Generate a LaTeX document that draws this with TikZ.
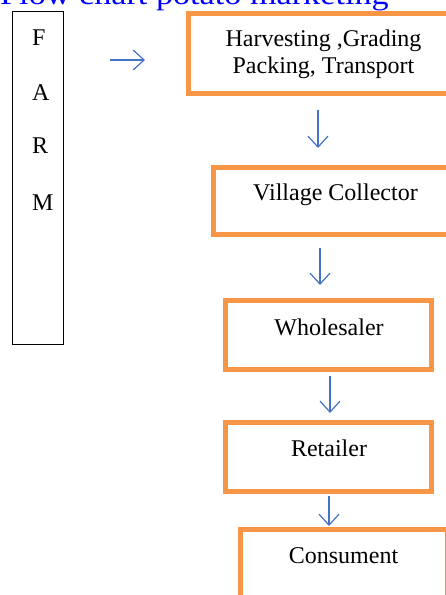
\documentclass[tikz,border=0pt]{standalone}
\usepackage{fontspec}
\setmainfont{Liberation Serif}
\usetikzlibrary{arrows.meta}
\definecolor{boxorange}{RGB}{247,150,70}
\definecolor{arrowblue}{RGB}{68,114,196}
\definecolor{titleblue}{RGB}{0,0,255}
\tikzset{
  obox/.style={draw=boxorange, line width=5pt, rectangle, inner sep=0pt, fill=white},
  farmbox/.style={draw=black, line width=0.9pt, rectangle, inner sep=0pt},
  btext/.style={anchor=base, inner sep=0pt, font=\fontsize{24}{27}\selectfont},
  ftext/.style={anchor=base west, inner sep=0pt, font=\fontsize{24}{27}\selectfont},
  flowarrow/.style={draw=arrowblue, line width=1.2pt, -{Straight Barb[length=11pt,width=20pt,line width=1.2pt]}},
}
\begin{document}
\begin{tikzpicture}[x=1pt,y=-1pt]
\useasboundingbox (0,0) rectangle (446,595);
\clip (0,0) rectangle (446,595);
% title (cut at top)
\node[anchor=base west, inner sep=0pt, text=titleblue, font=\fontsize{30}{30}\selectfont, xscale=1.14] (title) at (0,4) {Flow chart potato marketing};
% farm box
\node[farmbox, minimum width=51pt, minimum height=333pt] (farm) at (38,178) {};
\node[ftext] (fF) at (32,45) {F};
\node[ftext] (fA) at (32,100) {A};
\node[ftext] (fR) at (32,153) {R};
\node[ftext] (fM) at (32,210) {M};
% boxes
\node[obox, minimum width=271.5pt, minimum height=80pt] (harv) at (324.25,53.5) {};
\node[btext] (harv1) at (323.5,46) {Harvesting ,Grading};
\node[btext] (harv2) at (323.5,73.5) {Packing, Transport};
\node[obox, minimum width=246.5pt, minimum height=67pt] (vill) at (336.75,201) {};
\node[btext] (villt) at (335.5,200.5) {Village Collector};
\node[obox, minimum width=206pt, minimum height=69pt] (whole) at (328.5,335) {};
\node[btext] (wholet) at (329,335) {Wholesaler};
\node[obox, minimum width=206pt, minimum height=69pt] (ret) at (328.5,457) {};
\node[btext] (rett) at (329,456.7) {Retailer};
\node[obox, minimum width=206.5pt, minimum height=90.5pt] (cons) at (343.75,574.75) {};
\node[btext] (const) at (343.5,563.3) {Consument};
% arrow end points
\coordinate (a0s) at (110,60);
\coordinate (a0e) at (145,60);
\coordinate (a1s) at (318,110);
\coordinate (a1e) at (318,148);
\coordinate (a2s) at (320,248);
\coordinate (a2e) at (320,285);
\coordinate (a3s) at (330,376);
\coordinate (a3e) at (330,413);
\coordinate (a4s) at (329,496);
\coordinate (a4e) at (329,526);
\draw[flowarrow] (a0s) -- (a0e);
\draw[flowarrow] (a1s) -- (a1e);
\draw[flowarrow] (a2s) -- (a2e);
\draw[flowarrow] (a3s) -- (a3e);
\draw[flowarrow] (a4s) -- (a4e);
\end{tikzpicture}
\end{document}
